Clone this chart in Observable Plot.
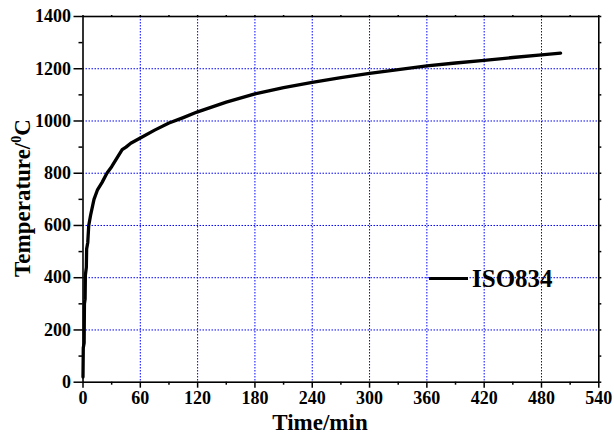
<!DOCTYPE html>
<html>
<head>
<meta charset="utf-8">
<script src="https://cdn.jsdelivr.net/npm/d3@7"></script>
<script src="https://cdn.jsdelivr.net/npm/@observablehq/plot@0.6"></script>
<style>
  html, body { margin: 0; padding: 0; background: #fff; }
  #wrap { position: relative; width: 614px; height: 433px; font-family: "Liberation Serif", "Times New Roman", serif; font-weight: bold; color: #000; }
  #wrap svg { position: absolute; left: 0; top: 0; }
  .ytitle { position: absolute; left: 22px; top: 198px; transform: translate(-50%, -50%) rotate(-90deg); font-size: 23px; white-space: nowrap; line-height: 1; }
  .ytitle sup { font-size: 14px; vertical-align: 9px; line-height: 0; }
  .xtitle { position: absolute; left: 320px; top: 422px; transform: translate(-50%, -50%); font-size: 23px; white-space: nowrap; line-height: 1; }
  .legend { position: absolute; left: 429px; top: 266px; display: flex; align-items: center; white-space: nowrap; }
  .legend .swatch { width: 39px; height: 3px; background: #000; margin-right: 4px; }
  .legend .lab { font-size: 25px; line-height: 1; }
</style>
</head>
<body>
<div id="wrap">
  <div class="ytitle">Temperature/<sup>0</sup>C</div>
  <div class="xtitle">Time/min</div>
  <div class="legend"><div class="swatch"></div><div class="lab">ISO834</div></div>
</div>
<script>
// Time (min) and temperature (°C)
const times = [0, 0.3, 1.2, 1.5, 2.2, 2.5, 3.5, 3.8, 5, 6, 8, 11.5, 15, 20, 25, 30, 35, 41, 45, 50, 60, 75, 90, 105, 120, 150, 180, 210, 240, 270, 300, 330, 360, 390, 420, 450, 480, 500];
const temps = [20, 132, 150, 300, 318, 410, 440, 510, 535, 600, 640, 700, 735, 765, 800, 825, 855, 890, 900, 915, 935, 965, 992, 1013, 1035, 1072, 1104, 1128, 1148, 1166, 1182, 1197, 1211, 1222, 1232, 1243, 1253, 1260];

const xTicks = [0, 60, 120, 180, 240, 300, 360, 420, 480, 540];
const xMinor = [30, 90, 150, 210, 270, 330, 390, 450, 510];
const yTicks = [0, 200, 400, 600, 800, 1000, 1200, 1400];
const yMinor = [100, 300, 500, 700, 900, 1100, 1300];
const xGrid = [60, 120, 180, 240, 300, 360, 420, 480];
const yGrid = [200, 400, 600, 800, 1000, 1200];

const data = times.map((t, i) => ({t, T: temps[i]}));
const blank = () => "";
const plain = d => String(d);
const gridStyle = {stroke: "#0000ff", strokeOpacity: 1, strokeWidth: 1, strokeDasharray: "1.5,1.5"};
const SERIF = "Liberation Serif";

const chart = Plot.plot({
  width: 614,
  height: 433,
  marginLeft: 82.5,
  marginRight: 15.7,
  marginTop: 16,
  marginBottom: 51.3,
  x: {domain: [0, 540]},
  y: {domain: [0, 1400]},
  style: {fontFamily: SERIF, fontWeight: "bold", fontSize: "18px", color: "#000", background: "transparent"},
  marks: [
    Plot.gridX(xGrid, gridStyle),
    Plot.gridY(yGrid, gridStyle),
    Plot.axisX(xTicks, {tickSize: 6, tickPadding: 3, tickFormat: plain, label: null, fontSize: 18, fontWeight: "bold", fontFamily: SERIF}),
    Plot.axisX(xMinor, {tickSize: 3, tickFormat: blank, label: null, strokeWidth: 1.5}),
    Plot.axisX(xTicks.concat(xMinor), {anchor: "top", tickSize: 2, tickFormat: blank, label: null, strokeWidth: 1.2}),
    Plot.axisY(yTicks, {tickSize: 9, tickPadding: 3, tickFormat: plain, label: null, fontSize: 18, fontWeight: "bold", fontFamily: SERIF}),
    Plot.axisY(yMinor, {tickSize: 4, tickFormat: blank, label: null, strokeWidth: 1.5}),
    Plot.axisY(yTicks.concat(yMinor), {anchor: "right", tickSize: 2, tickFormat: blank, label: null, strokeWidth: 1.2}),
    Plot.frame({stroke: "#000", strokeWidth: 1.6}),
    Plot.line(data, {x: "t", y: "T", stroke: "#000", strokeWidth: 3.3, strokeLinejoin: "round", strokeLinecap: "round"})
  ]
});
chart.querySelectorAll("text").forEach(t => {
  t.setAttribute("font-family", SERIF);
  t.setAttribute("font-weight", "bold");
  t.style.fontSize = "18px";
});
chart.querySelectorAll("[aria-label$='tick'] path").forEach(p => p.setAttribute("stroke-width", "1.5"));
document.getElementById("wrap").prepend(chart);
</script>
</body>
</html>
